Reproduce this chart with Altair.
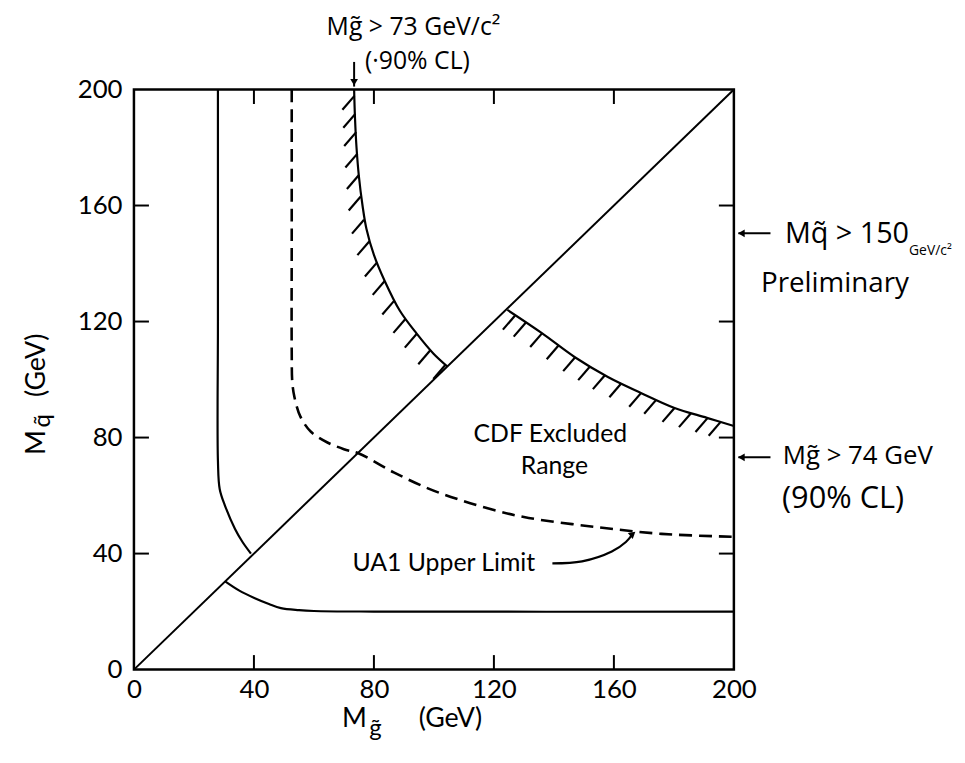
import altair as alt
import pandas as pd

# ---------------- data (GeV) ----------------
axis_vals = [0, 40, 80, 120, 160, 200]
tick_vals = [40, 80, 120, 160]

diag_x = [0, 200]
diag_y = [0, 200]

# UA1 solid limit (vertical branch)
left_x = [28, 28, 28, 28.6, 30.4, 33.7, 36.2, 39]
left_y = [200, 120, 72, 62.2, 56.4, 48.5, 44, 40]

# UA1 solid limit (horizontal branch)
low_x = [30.4, 35, 40.3, 45, 49, 55, 60, 80, 200]
low_y = [30.4, 27.3, 24.6, 22.6, 21.2, 20.5, 20.2, 20, 20]

# UA1 upper limit (dashed)
dash_x = [52.6, 52.6, 52.6, 52.8, 53.5, 55.5, 59, 64.5, 70, 75, 86.6, 98, 108.4, 120, 131.6, 153.7, 175.9, 200]
dash_y = [200, 150, 110, 99, 94, 87.2, 82, 78.3, 76, 74.5, 68, 62.5, 58.6, 55, 52.3, 49.2, 46.8, 45.8]

# CDF excluded boundary, upper part
up_x = [73.4, 73.7, 74.2, 75.0, 76.2, 77.5, 80, 83.6, 88.6, 94.2, 99.8, 104.5]
up_y = [200, 190, 180, 170, 160, 152, 143, 134, 123.8, 115.9, 109, 104.5]

# CDF excluded boundary, lower part
lo_x = [124.5, 136, 147, 158, 169, 180, 191, 200]
lo_y = [124, 116, 107.7, 100.9, 95.4, 90.3, 86.8, 84]

# hatch anchor points along the CDF boundary
hu_x = [73.5, 73.8, 74.1, 74.5, 75.0, 75.6, 76.7, 78.5, 81, 83.6, 86.8, 90.5, 94.3, 98.8, 103.8]
hu_y = [197.8, 191.6, 185.3, 177.9, 170.5, 163.1, 155.1, 147.7, 140.3, 134, 127.2, 120.9, 115.8, 110.1, 105]
hl_x = [127, 130.6, 136.1, 141.6, 147.1, 152.1, 157, 162.5, 169.1, 174.1, 180.2, 185.7, 191.2, 195.6]
hl_y = [122, 119.6, 116, 111.8, 107.7, 104.6, 101.5, 98.7, 95.4, 93, 90.2, 88.4, 86.7, 85.4]

# UA1 label arrow
ua_x = [139.5, 149.4, 159.3, 164, 166.3]
ua_y = [36.6, 37.3, 40.7, 44, 46.8]

# printed labels
print_text = ["CDF Excluded", "Range", "UA1 Upper Limit"]
print_x = [138.8, 140.2, 103.3]
print_y = [81.2, 70.3, 36.9]

# axis titles (pieces)
title_text = ["M", "g\u0303", "(GeV)", "M", "q\u0303", "(GeV)"]
title_x = [73.5, 80.5, 105.5, -32.2, -30.2, -32.4]
title_y = [-17.2, -20.6, -17.2, 78.3, 85.8, 104.9]
title_angle = [0, 0, 0, 270, 270, 270]
title_size = [27, 24, 27, 27, 24, 27]

# handwritten notes
note_text = ["Mg\u0303 > 73 GeV/c\u00b2", "(\u00b790% CL)", "Mq\u0303 > 150", "GeV/c\u00b2",
             "Preliminary", "Mg\u0303 > 74 GeV", "(90% CL)"]
note_x = [93.2, 94.5, 237.7, 265.5, 233.7, 241.3, 236.4]
note_y = [221.5, 209.9, 150.1, 144.3, 133, 73.5, 58.8]
note_size = [25, 25, 29, 14, 28, 26, 31]

# annotation arrows
arr_x = [[73.4, 73.4], [201.5, 212.2], [201.5, 212.2]]
arr_y = [[209.5, 201], [150.4, 150.4], [73.2, 73.2]]

# ---------------- tables ----------------
def curve(name, xs, ys):
    return pd.DataFrame({"curve": name, "i": range(len(xs)), "x": xs, "y": ys})

smooth = pd.concat([curve("left", left_x, left_y), curve("low", low_x, low_y),
                    curve("up", up_x, up_y), curve("lo", lo_x, lo_y), curve("ua", ua_x, ua_y)])
straight = pd.concat([curve("diag", diag_x, diag_y)] +
                     [curve(f"arr{k}", ax, ay) for k, (ax, ay) in enumerate(zip(arr_x, arr_y))])
dashed = curve("dash", dash_x, dash_y)

hdx, hdy = -4.0, -4.8
hatch = pd.DataFrame({"x": hu_x + hl_x, "y": hu_y + hl_y})
hatch["x2"] = hatch["x"] + hdx
hatch["y2"] = hatch["y"] + hdy

ticks = pd.concat([
    pd.DataFrame({"x": tick_vals, "x2": tick_vals, "y": 0, "y2": 5}),
    pd.DataFrame({"x": tick_vals, "x2": tick_vals, "y": 200, "y2": 195}),
    pd.DataFrame({"y": tick_vals, "y2": tick_vals, "x": 0, "x2": 5}),
    pd.DataFrame({"y": tick_vals, "y2": tick_vals, "x": 200, "x2": 195}),
])

heads = pd.DataFrame({"x": [73.4, 202.5, 202.5], "y": [202.5, 150.4, 73.2],
                      "shape": ["triangle-down", "triangle-left", "triangle-left"]})
ua_head = pd.DataFrame({"x": [ua_x[-1]], "y": [ua_y[-1]]})

printed = pd.DataFrame({"t": print_text, "x": print_x, "y": print_y})
titles = pd.DataFrame({"t": title_text, "x": title_x, "y": title_y, "a": title_angle, "s": title_size})
notes = pd.DataFrame({"t": note_text, "x": note_x, "y": note_y, "s": note_size})

# ---------------- encodings ----------------
xs = alt.Scale(domain=[0, 200], nice=False, zero=False)
ys = alt.Scale(domain=[0, 200], nice=False, zero=False)
xaxis = alt.Axis(values=axis_vals, ticks=False, domain=False, grid=False, title=None,
                 labelFont="Lato", labelFontSize=26, labelColor="black", labelPadding=7,
                 labelFlush=False, labelOverlap=False)
yaxis = alt.Axis(values=axis_vals, ticks=False, domain=False, grid=False, title=None,
                 labelFont="Lato", labelFontSize=26, labelColor="black", labelPadding=12,
                 labelFlush=False, labelOverlap=False)
X = alt.X("x:Q", scale=xs, axis=xaxis)
Y = alt.Y("y:Q", scale=ys, axis=yaxis)

smooth_l = alt.Chart(smooth).mark_line(color="black", strokeWidth=2.2, interpolate="catmull-rom").encode(
    x=X, y=Y, detail="curve:N", order="i:Q")
straight_l = alt.Chart(straight).mark_line(color="black", strokeWidth=2).encode(
    x=X, y=Y, detail="curve:N", order="i:Q")
dash_l = alt.Chart(dashed).mark_line(color="black", strokeWidth=2.6, strokeDash=[13, 7],
                                     interpolate="catmull-rom").encode(x=X, y=Y, order="i:Q")
hatch_l = alt.Chart(hatch).mark_rule(color="black", strokeWidth=2.2).encode(
    x=X, y=Y, x2="x2:Q", y2="y2:Q")
tick_l = alt.Chart(ticks).mark_rule(color="black", strokeWidth=2).encode(
    x=X, y=Y, x2="x2:Q", y2="y2:Q")
head_l = alt.Chart(heads).mark_point(filled=True, color="black", size=60, opacity=1).encode(
    x=X, y=Y, shape=alt.Shape("shape:N", scale=None))
ua_head_l = alt.Chart(ua_head).mark_point(filled=True, color="black", size=60, opacity=1,
                                           shape="triangle-up", angle=50).encode(x=X, y=Y)
printed_l = alt.Chart(printed).mark_text(font="Lato", fontSize=25, color="black").encode(
    x=X, y=Y, text="t:N")
titles_l = alt.Chart(titles).mark_text(font="Lato", color="black").encode(
    x=X, y=Y, text="t:N", angle=alt.Angle("a:Q", scale=None), size=alt.Size("s:Q", scale=None))
notes_l = alt.Chart(notes).mark_text(font="Open Sans", color="black").encode(
    x=X, y=Y, text="t:N", size=alt.Size("s:Q", scale=None))

chart = alt.layer(smooth_l, straight_l, dash_l, hatch_l, tick_l, head_l, ua_head_l,
                  printed_l, titles_l, notes_l).properties(
    width=605, height=585,
    autosize=alt.AutoSizeParams(type="none"),
    padding={"left": 127, "top": 79, "right": 225, "bottom": 91},
    background="white",
).configure_view(stroke="black", strokeWidth=2.5)

chart.save("out.html", embed_options={"renderer": "svg", "actions": False})
